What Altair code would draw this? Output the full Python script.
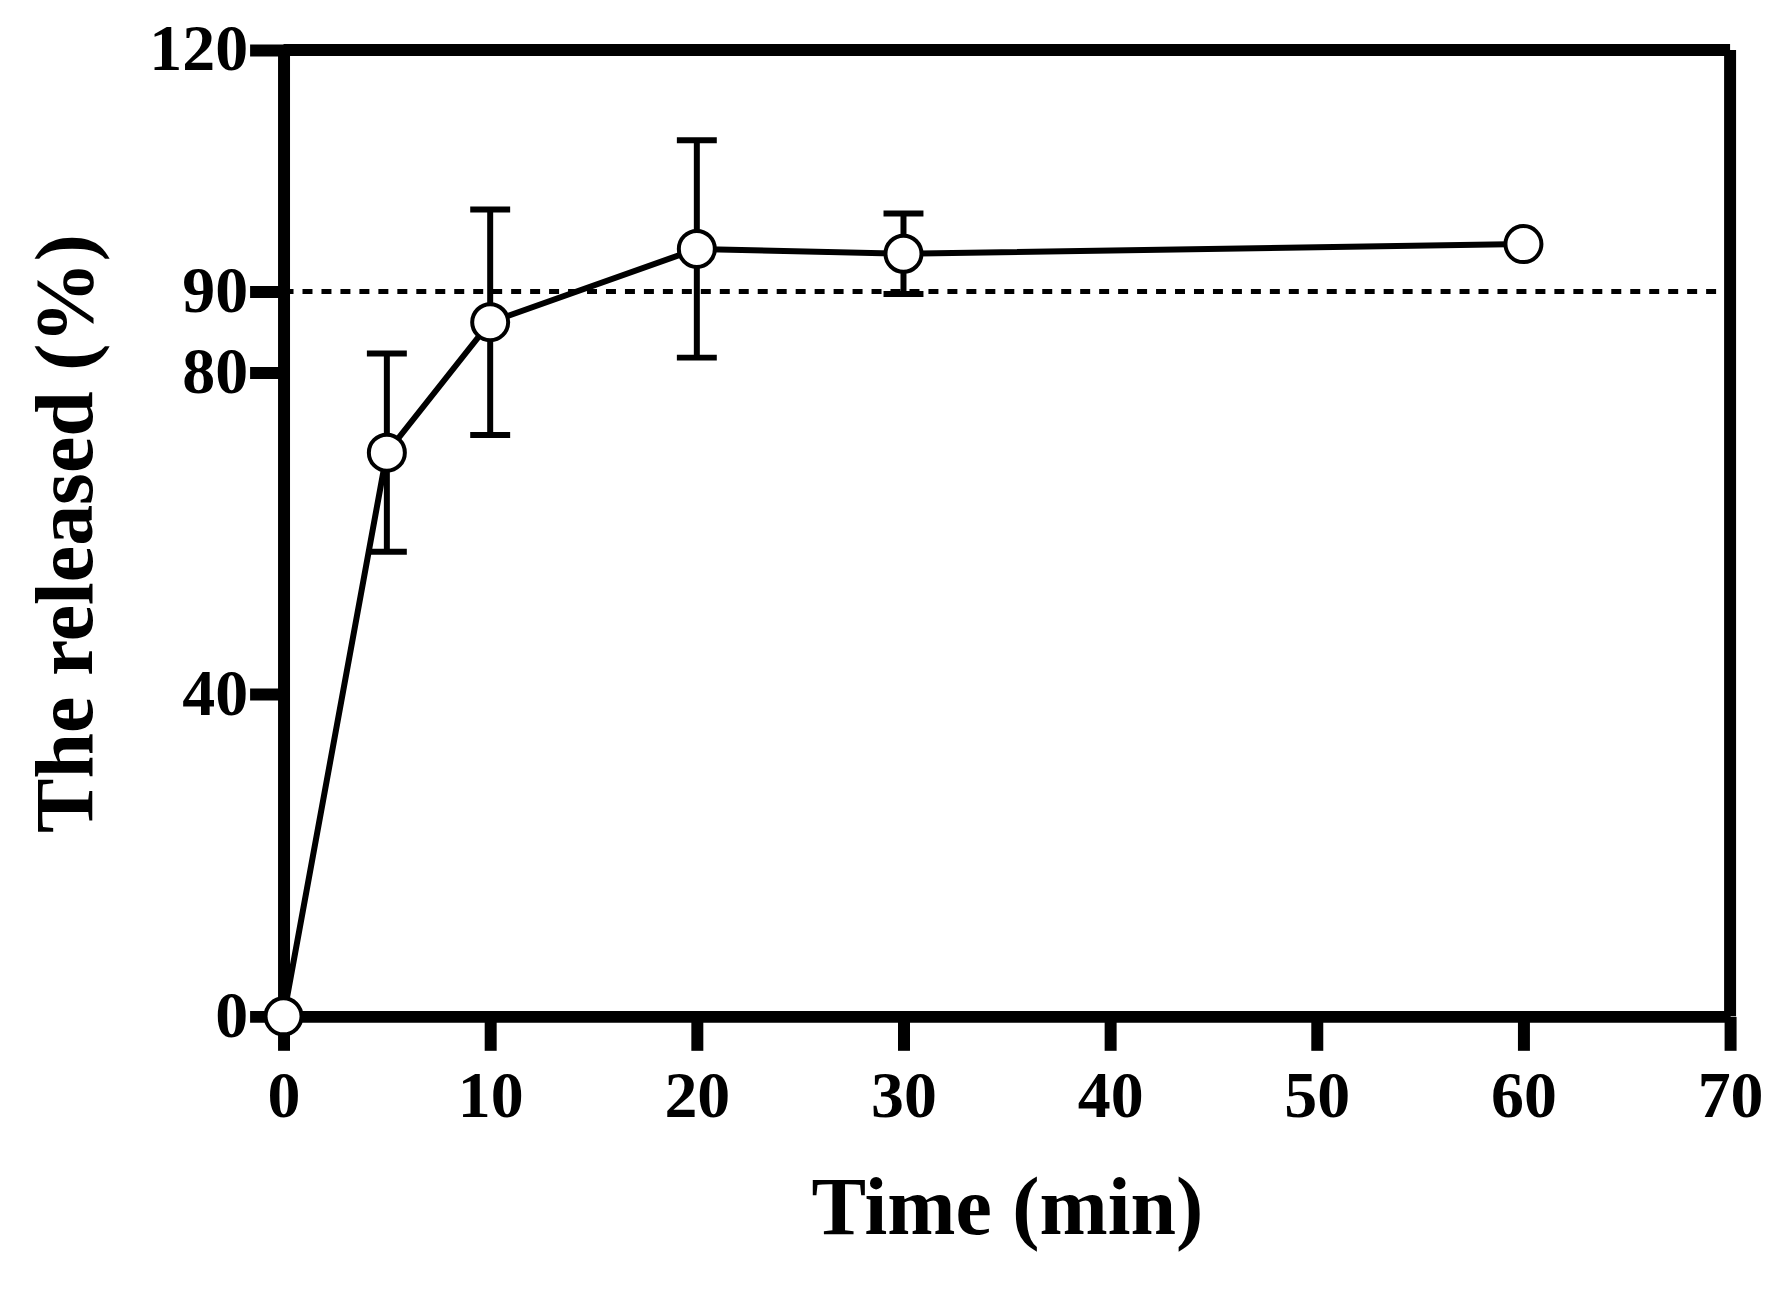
import altair as alt
import pandas as pd

time = [0, 5, 10, 20, 30, 60]
released = [0, 70.0, 86.2, 95.3, 94.7, 95.9]
err = [0, 12.3, 14.0, 13.5, 5.0, 0]

df = pd.DataFrame({"t": time, "y": released, "e": err})
df["lo"] = df["y"] - df["e"]
df["hi"] = df["y"] + df["e"]
eb = df[df["e"] > 0]
ref = pd.DataFrame({"x": [0], "x2": [69.5], "y": [90]})
frame_top = pd.DataFrame({"x": [0], "x2": [70], "y": [120]})
frame_right = pd.DataFrame({"x": [70], "y": [0], "y2": [120]})

FONT = "Liberation Serif"
xs = alt.Scale(domain=[0, 70], nice=False, zero=False)
ys = alt.Scale(domain=[0, 120], nice=False, zero=False)

xax = alt.Axis(values=list(range(0, 71, 10)), format="d", domainWidth=12, tickWidth=12,
               tickSize=34, labelFontSize=66, labelFont=FONT, labelFontWeight="bold",
               labelPadding=14, labelFlush=False, titleFont=FONT, titleFontSize=82,
               titleFontWeight="bold", titlePadding=40, grid=False, domainColor="black",
               tickColor="black", labelColor="black", titleColor="black")
yax = alt.Axis(values=[0, 40, 80, 90, 120], domainWidth=12, tickWidth=12, tickSize=34,
               labelFontSize=66, labelFont=FONT, labelFontWeight="bold", labelPadding=2,
               labelFlush=False, titleFont=FONT, titleFontSize=82, titleFontWeight="bold",
               titlePadding=40, grid=False, domainColor="black", tickColor="black",
               labelColor="black", titleColor="black")

base = alt.Chart(df)
line = base.mark_line(color="black", strokeWidth=6).encode(
    x=alt.X("t:Q", scale=xs, axis=xax, title="Time (min)"),
    y=alt.Y("y:Q", scale=ys, axis=yax, title="The released (%)"))
top = alt.Chart(frame_top).mark_rule(color="black", strokeWidth=12).encode(
    x="x:Q", x2="x2", y="y:Q")
right = alt.Chart(frame_right).mark_rule(color="black", strokeWidth=12).encode(
    x="x:Q", y="y:Q", y2="y2")
dash = alt.Chart(ref).mark_rule(color="black", strokeWidth=5, strokeDash=[10, 9]).encode(
    x="x:Q", x2="x2", y="y:Q")
bars = alt.Chart(eb).mark_rule(color="black", strokeWidth=6).encode(
    x="t:Q", y="lo:Q", y2="hi")
caps_hi = alt.Chart(eb).mark_tick(color="black", orient="horizontal", size=40, thickness=6,
                                  opacity=1).encode(x="t:Q", y="hi:Q")
caps_lo = alt.Chart(eb).mark_tick(color="black", orient="horizontal", size=40, thickness=6,
                                  opacity=1).encode(x="t:Q", y="lo:Q")
pts = base.mark_point(shape="circle", filled=True, fill="white", stroke="black",
                      strokeWidth=4, size=1300, opacity=1).encode(x="t:Q", y="y:Q")

chart = alt.layer(top, right, dash, bars, caps_hi, caps_lo, line, pts).properties(
    width=1449, height=968, autosize=alt.AutoSizeParams(type="none"),
    padding={"left": 276, "top": 41, "right": 50, "bottom": 260}
).configure_view(strokeWidth=0).configure(background="white")

chart.save("out.html", embed_options={"renderer": "svg", "actions": False})
